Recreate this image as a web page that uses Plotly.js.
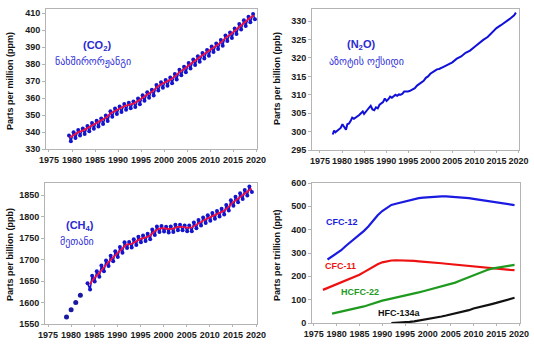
<!DOCTYPE html>
<html><head><meta charset="utf-8">
<script src="https://cdn.plot.ly/plotly-3.0.1.min.js"></script>
<style>html,body{margin:0;padding:0;background:#fff}#c{width:534px;height:357px}</style>
</head><body><div id="c"></div>
<script>
// ---- CO2 (ppm) ----
const co2Years = [1979,1980,1981,1982,1983,1984,1985,1986,1987,1988,1989,1990,1991,1992,1993,1994,1995,1996,1997,1998,1999,2000,2001,2002,2003,2004,2005,2006,2007,2008,2009,2010,2011,2012,2013,2014,2015,2016,2017,2018,2019];
const co2Trend = [336.8,338.7,340.1,341.0,342.6,344.2,345.5,346.9,348.7,351.2,352.8,354.0,355.4,356.2,356.9,358.6,360.6,362.4,363.8,366.6,368.3,369.5,371.0,373.1,375.6,377.4,379.6,381.7,383.6,385.5,387.2,389.3,391.1,393.1,395.8,397.6,399.9,402.6,404.7,406.9,408.7];
const co2High = [337.9,339.8,341.2,342.1,343.6,345.3,346.6,348.0,349.8,352.3,353.9,355.1,356.5,357.3,358.0,359.7,361.7,363.5,364.9,367.7,369.4,370.6,372.1,374.2,376.7,378.5,380.7,382.8,384.7,386.6,388.3,390.4,392.2,394.2,396.9,398.7,401.0,403.7,405.8,408.0,409.6];
const co2Low = [334.6,336.5,337.9,338.8,340.4,342.0,343.3,344.7,346.5,349.0,350.6,351.8,353.2,354.0,354.7,356.4,358.4,360.2,361.6,364.4,366.1,367.3,368.8,370.9,373.4,375.2,377.4,379.5,381.4,383.3,385.0,387.1,388.9,390.9,393.6,395.4,397.7,400.4,402.5,404.7,406.5];

// ---- N2O (ppb) ----
const n2oYears = [1977.9,1978.2,1978.5,1978.9,1979.3,1979.7,1980.1,1980.5,1980.9,1981.2,1981.6,1982.0,1982.3,1982.7,1983.1,1983.5,1983.9,1984.3,1984.7,1985.0,1985.4,1985.8,1986.2,1986.5,1986.9,1987.3,1987.7,1988.1,1988.5,1988.9,1989.3,1989.7,1990.1,1990.5,1990.9,1991.3,1991.7,1992.1,1992.5,1992.9,1993.3,1993.7,1994.1,1994.5,1994.9,1995.3,1995.8,1996.5,1997.0,1997.5,1998.0,1998.5,1999.0,1999.5,2000.0,2000.5,2001.0,2001.5,2002.0,2003.0,2004.0,2005.0,2006.0,2007.0,2008.0,2009.0,2010.0,2011.0,2012.0,2013.0,2014.0,2015.0,2016.0,2017.0,2018.0,2019.0,2019.4];
const n2oValues = [299.2,300.3,299.8,300.2,300.6,301.0,302.0,301.2,300.5,302.0,302.2,303.0,303.8,303.5,303.8,304.3,304.5,305.0,305.5,304.8,305.3,306.0,306.6,307.0,306.0,305.8,306.6,306.3,307.3,307.7,308.0,309.0,308.3,308.8,309.5,309.2,309.6,310.0,309.7,310.1,310.0,310.3,310.9,310.8,310.9,311.0,311.4,311.8,312.5,313.0,313.4,313.8,314.6,315.0,315.7,316.2,316.5,316.9,317.0,317.6,318.2,318.8,319.8,320.4,321.4,322.0,323.0,324.0,324.9,325.7,326.9,328.1,328.9,329.7,330.6,331.6,332.3];

// ---- CH4 (ppb) ----
const ch4EarlyYears = [1979,1980,1981,1982];
const ch4EarlyValues = [1566,1583,1600,1617];
const ch4Years = [1984,1985,1986,1987,1988,1989,1990,1991,1992,1993,1994,1995,1996,1997,1998,1999,2000,2001,2002,2003,2004,2005,2006,2007,2008,2009,2010,2011,2012,2013,2014,2015,2016,2017,2018,2019];
const ch4Trend = [1642,1657,1668,1681,1693,1704,1714,1724,1735,1736,1742,1748,1751,1755,1765,1772,1773,1771,1772,1776,1776,1774,1774,1781,1787,1793,1798,1803,1808,1813,1822,1833,1841,1849,1857,1865];
const ch4High = [1645,1662,1673,1686,1698,1709,1719,1729,1740,1741,1747,1753,1756,1760,1770,1777,1778,1776,1777,1781,1781,1779,1779,1786,1792,1798,1803,1808,1813,1818,1827,1838,1846,1854,1862,1870];
const ch4Low = [1630,1649,1660,1673,1685,1696,1706,1716,1727,1728,1734,1740,1743,1747,1757,1764,1765,1763,1764,1768,1768,1766,1766,1773,1779,1785,1790,1795,1800,1805,1814,1825,1833,1841,1849,1857];

// ---- Halocarbons (ppt) ----
const cfc12Years = [1978,1979,1980,1981,1982,1983,1984,1985,1986,1987,1988,1989,1990,1991,1992,1993,1994,1995,1996,1997,1998,1999,2000,2001,2002,2003,2004,2005,2006,2007,2008,2009,2010,2011,2012,2013,2014,2015,2016,2017,2018,2019];
const cfc12Values = [272,285,298,312,330,346,362,378,395,415,440,462,480,495,506,511,516,522,528,532,535,537,539,541,542,543,543,542,541,539,537,535,532,529,526,523,520,517,514,511,508,505];
const cfc11Years = [1977,1978,1979,1980,1981,1982,1983,1984,1985,1986,1987,1988,1989,1990,1991,1992,1993,1994,1995,1996,1997,1998,1999,2000,2001,2002,2003,2004,2005,2006,2007,2008,2009,2010,2011,2012,2013,2014,2015,2016,2017,2018,2019];
const cfc11Values = [142,150,158,166,174,182,190,198,207,218,230,242,252,260,265,268,269,269,268,267,266,264,263,262,260,258,256,254,252,250,248,245,243,241,239,237,235,233,232,230,229,228,227];
const hcfc22Years = [1979,1980,1981,1982,1983,1984,1985,1986,1987,1988,1989,1990,1991,1992,1993,1994,1995,1996,1997,1998,1999,2000,2001,2002,2003,2004,2005,2006,2007,2008,2009,2010,2011,2012,2013,2014,2015,2016,2017,2018,2019];
const hcfc22Values = [40,44,48,52,56,61,66,71,77,84,90,96,100,104,108,112,117,121,126,131,136,141,146,151,156,161,166,173,181,189,197,205,213,220,227,233,237,240,243,246,249];
const hfc134aYears = [1992,1993,1994,1995,1996,1997,1998,1999,2000,2001,2002,2003,2004,2005,2006,2007,2008,2009,2010,2011,2012,2013,2014,2015,2016,2017,2018,2019];
const hfc134aValues = [0,0.5,1.5,3,5,7,10,13,16,20,24,28,32,36,40,45,50,55,62,66,71,76,81,86,91,97,103,108];

const xTicks = [1975,1980,1985,1990,1995,2000,2005,2010,2015,2020];

// build seasonal zigzag from high/low readings
function zig(years, hi, lo, offHi, offLo){
  const x=[], y=[];
  years.forEach((yr,i)=>{ x.push(yr+offHi); y.push(hi[i]); x.push(yr+offLo); y.push(lo[i]); });
  return {x,y};
}
const co2Z = zig(co2Years, co2High, co2Low, 0.35, 0.75);
const ch4Z = zig(ch4Years, ch4High, ch4Low, -0.45, 0.1);
const shift = (a,d) => a.map(v=>v+d);

const BLUE='#1414cc', RED='#ee1144';
const traces = [
  {x:co2Z.x, y:co2Z.y, xaxis:'x', yaxis:'y', mode:'lines+markers', line:{color:BLUE,width:1.6}, marker:{color:BLUE,size:4}},
  {x:shift(co2Years,0.5), y:co2Trend, xaxis:'x', yaxis:'y', mode:'lines', line:{color:RED,width:1.8}},
  {x:n2oYears, y:n2oValues, xaxis:'x2', yaxis:'y2', mode:'lines', line:{color:'#1010d8',width:2}},
  {x:ch4EarlyYears, y:ch4EarlyValues, xaxis:'x3', yaxis:'y3', mode:'markers', marker:{color:'#1a1aa0',size:5}},
  {x:ch4Z.x, y:ch4Z.y, xaxis:'x3', yaxis:'y3', mode:'lines+markers', line:{color:BLUE,width:1.6}, marker:{color:BLUE,size:4}},
  {x:ch4Years, y:ch4Trend, xaxis:'x3', yaxis:'y3', mode:'lines', line:{color:RED,width:1.8}},
  {x:cfc12Years, y:cfc12Values, xaxis:'x4', yaxis:'y4', mode:'lines', line:{color:'#1a1ae0',width:2.2}},
  {x:cfc11Years, y:cfc11Values, xaxis:'x4', yaxis:'y4', mode:'lines', line:{color:'#ee1111',width:2.2}},
  {x:hcfc22Years, y:hcfc22Values, xaxis:'x4', yaxis:'y4', mode:'lines', line:{color:'#1e9a1e',width:2.2}},
  {x:hfc134aYears, y:hfc134aValues, xaxis:'x4', yaxis:'y4', mode:'lines', line:{color:'#111111',width:2.2}}
];

const W=534,H=357;
const FONT='Liberation Sans, Arial, sans-serif';
const tf={family:FONT,size:9,color:'#1a1a1a',weight:'bold'};
function xa(l,r){return {domain:[l/W,r/W], tickvals:xTicks, ticktext:xTicks.map(String), showgrid:false, zeroline:false,
  showline:true, mirror:true, linecolor:'#b4b4b4', linewidth:1, ticks:'outside', ticklen:2, tickcolor:'#b4b4b4', tickfont:tf, fixedrange:true};}
function ya(t,b,range,dtick){return {domain:[1-b/H,1-t/H], range:range, dtick:dtick, showgrid:false, zeroline:false,
  showline:true, mirror:true, linecolor:'#b4b4b4', linewidth:1, ticks:'outside', ticklen:3, tickcolor:'#b4b4b4', tickfont:tf};}

function lab(x,y,text,size,color,bold,family,angle){
  return {xref:'paper',yref:'paper',x:x/W,y:1-y/H,xanchor:'center',yanchor:'middle',text:text,showarrow:false,
    textangle:angle||0, font:{family:family||FONT,size:size,color:color,weight:bold?'bold':'normal'}};
}

const layout = {
  width:W, height:H, margin:{l:0,r:0,t:0,b:0}, showlegend:false,
  paper_bgcolor:'#fff', plot_bgcolor:'#fff',
  xaxis: Object.assign(xa(46,257),{anchor:'y', range:[1974.35,2020.2]}),
  yaxis: Object.assign(ya(9,149,[330,412.5],10),{anchor:'x'}),
  xaxis2: Object.assign(xa(312,519),{anchor:'y2', range:[1973.2,2020.1]}),
  yaxis2: Object.assign(ya(9,150,[295,333.3],5),{anchor:'x2'}),
  xaxis3: Object.assign(xa(45,257),{anchor:'y3', range:[1974.35,2020.2]}),
  yaxis3: Object.assign(ya(183,324,[1550,1878],50),{anchor:'x3'}),
  xaxis4: Object.assign(xa(312,520),{anchor:'y4', range:[1974.6,2020.2]}),
  yaxis4: Object.assign(ya(183,323,[0,600],100),{anchor:'x4'}),
  annotations:[
    lab(10,81,'Parts per million (ppm)',9,'#111',true,FONT,-90),
    lab(277,79,'Parts per billion (ppb)',9,'#111',true,FONT,-90),
    lab(10,255,'Parts per billion (ppb)',9,'#111',true,FONT,-90),
    lab(277,255,'Parts per trillion (ppt)',9,'#111',true,FONT,-90),
    lab(97,46,'(CO<sub>2</sub>)',11,'#2a2ad0',true),
    lab(93,62,'ნახშირორჟანგი',10,'#3030d8',false,'DejaVu Sans'),
    lab(361,45,'(N<sub>2</sub>O)',11,'#2a2ad0',true),
    lab(366,62,'აზოტის ოქსიდი',10,'#3030d8',false,'DejaVu Sans'),
    lab(80,226,'(CH<sub>4</sub>)',11,'#2a2ad0',true),
    lab(77,242,'მეთანი',10,'#3030d8',false,'DejaVu Sans'),
    lab(342,222,'CFC-12',9,'#1a1ae0',true),
    lab(340,266,'CFC-11',9,'#ee1111',true),
    lab(360,292,'HCFC-22',9,'#1e9a1e',true),
    lab(399,313,'HFC-134a',9,'#111',true)
  ]
};
Plotly.newPlot('c', traces, layout, {staticPlot:true, displayModeBar:false});
</script></body></html>
